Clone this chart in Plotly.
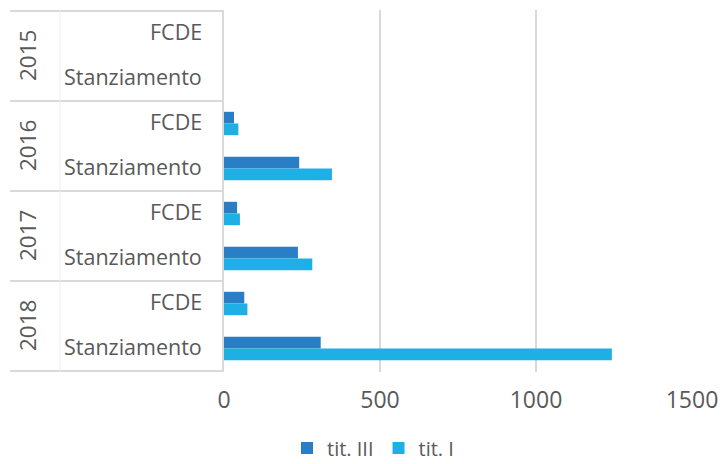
import plotly.graph_objects as go

# Data (values in thousands)
years = ["2015", "2015", "2016", "2016", "2017", "2017", "2018", "2018"]
items = ["FCDE", "Stanziamento"] * 4
tit_iii = [None, None, 32, 241, 42, 237, 65, 310]
tit_i = [None, None, 46, 346, 51, 283, 75, 1243]
x_ticks = [0, 500, 1000, 1500]

cats = [f"{y} {i}" for y, i in zip(years, items)]

W, H = 722, 464
ML, MR, MT, MB = 224, 30, 10, 92
PW = W - ML - MR
PH = H - MT - MB

def px_to_paper_x(px):
    return (px - ML) / PW

def px_to_paper_y(py):
    return (H - MB - py) / PH

GREY_TEXT = "#595959"
LINE = "#d9d9d9"
FONT = "Open Sans"

fig = go.Figure()
fig.add_trace(go.Bar(y=cats, x=tit_iii, orientation="h", name="tit. III",
                     marker=dict(color="#2A7EC5", line=dict(width=0))))
fig.add_trace(go.Bar(y=cats, x=tit_i, orientation="h", name="tit. I",
                     marker=dict(color="#1EAFE5", line=dict(width=0))))

annotations = []
# inner labels (FCDE / Stanziamento)
for c, it in zip(cats, items):
    annotations.append(dict(x=px_to_paper_x(204), xref="paper", y=c, yref="y",
                            text=it, showarrow=False, xanchor="right", yshift=2,
                            font=dict(size=21.5, color=GREY_TEXT, family=FONT)))
# outer labels (years), rotated
uniq_years = []
for y in years:
    if y not in uniq_years:
        uniq_years.append(y)
for k, y in enumerate(uniq_years):
    annotations.append(dict(x=px_to_paper_x(27), xref="paper", y=2 * k + 0.5, yref="y",
                            text=y, showarrow=False, textangle=-90,
                            xanchor="center", yanchor="middle",
                            font=dict(size=22.5, color=GREY_TEXT, family=FONT)))

shapes = []
left = px_to_paper_x(10)
# horizontal separators of the category table
for k in range(len(uniq_years) + 1):
    yv = 2 * k - 0.5
    shapes.append(dict(type="line", xref="paper", yref="y", x0=left, x1=0,
                       y0=yv, y1=yv, line=dict(color=LINE, width=2)))
# vertical separator between year and item columns
shapes.append(dict(type="line", xref="paper", yref="paper",
                   x0=px_to_paper_x(60), x1=px_to_paper_x(60), y0=0, y1=1,
                   line=dict(color="#eeeeee", width=1)))

fig.update_layout(
    width=W, height=H,
    margin=dict(l=ML, r=MR, t=MT, b=MB, autoexpand=False),
    paper_bgcolor="white", plot_bgcolor="white",
    barmode="group", bargap=0.48, bargroupgap=0,
    font=dict(family=FONT, color=GREY_TEXT, size=20),
    showlegend=True,
    legend=dict(orientation="h", x=px_to_paper_x(373), xanchor="center",
                y=px_to_paper_y(448), yanchor="middle",
                font=dict(size=20, color=GREY_TEXT), itemwidth=30,
                tracegroupgap=0, traceorder="normal"),
    annotations=annotations,
    shapes=shapes,
    xaxis=dict(range=[0, 1500], tickvals=x_ticks, showgrid=True,
               gridcolor=LINE, gridwidth=2, zeroline=False,
               showline=False, ticks="", ticklabelstandoff=12,
               tickfont=dict(size=23, color=GREY_TEXT, family=FONT)),
    yaxis=dict(type="category", categoryorder="array", categoryarray=cats,
               autorange="reversed", showticklabels=False, showgrid=False,
               zeroline=False, showline=True, linecolor=LINE, linewidth=2,
               ticks=""),
)

fig.write_html("out.html")
